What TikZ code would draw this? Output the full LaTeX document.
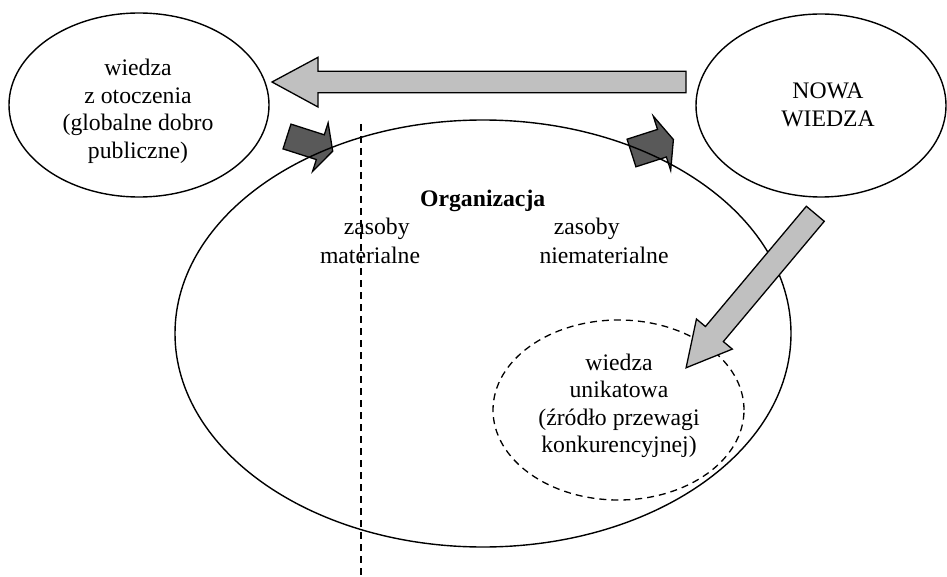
\documentclass[tikz,border=0pt]{standalone}
\usepackage{fontspec}
\setmainfont{Liberation Serif}
\usetikzlibrary{shapes.geometric}
\definecolor{lightarrow}{RGB}{192,192,192}
\definecolor{darkarrow}{RGB}{89,89,89}
\begin{document}
\begin{tikzpicture}[x=1pt,y=-1pt,
  oval/.style={draw,ellipse,line width=1.4pt,inner sep=0pt},
  dashoval/.style={draw,ellipse,line width=1.3pt,inner sep=0pt,dash pattern=on 7pt off 5pt},
  txt/.style={inner sep=0pt,align=center,font=\fontsize{23.7pt}{27.5pt}\selectfont},
  lightblock/.style={draw,line width=1.3pt,fill=lightarrow,line join=miter},
  darkblock/.style={draw,line width=1.3pt,fill=darkarrow,line join=miter},
  dashline/.style={line width=1.3pt,dash pattern=on 7pt off 5pt}]
\useasboundingbox (0,0) rectangle (947,577);

% dark block arrows (under the organisation ellipse)
\begin{scope}[shift={(287,136.5)},rotate=-17.8]
  \draw[darkblock] (0,-13) -- (35,-13) -- (35,-25.5) -- (48,0) -- (35,25.5) -- (35,13) -- (0,13) -- cycle;
\end{scope}
\begin{scope}[shift={(631.5,153)},rotate=17.8]
  \draw[darkblock] (0,-14.5) -- (32,-14.5) -- (32,-28.5) -- (44,0) -- (32,28.5) -- (32,14.5) -- (0,14.5) -- cycle;
\end{scope}

% organisation ellipse
\node[oval,minimum width=616pt,minimum height=427pt] (org) at (483,333.5) {};
% unique knowledge ellipse
\node[dashoval,minimum width=251pt,minimum height=180pt] (uniq) at (618.5,410) {};

% diagonal light arrow
\begin{scope}[shift={(815.3,213.8)},rotate=-130]
  \draw[lightblock] (0,-11.7) -- (157,-11.7) -- (157,-23.4) -- (201,0) -- (157,23.4) -- (157,11.7) -- (0,11.7) -- cycle;
\end{scope}

% horizontal light arrow
\draw[lightblock] (686,71.3) -- (318,71.3) -- (318,57.3) -- (272,82) -- (318,107) -- (318,92.7) -- (686,92.7) -- cycle;

% outer ellipses
\node[oval,minimum width=260pt,minimum height=184pt] (env) at (139,105) {};
\node[oval,minimum width=250pt,minimum height=183pt] (new) at (821,105.5) {};

% texts
\node[txt] (envtxt) at (138,111.5) {wiedza\\z otoczenia\\(globalne dobro\\publiczne)};
\node[txt] (newtxt) at (828,104.7) {NOWA\\WIEDZA};
\node[txt,anchor=base] (orgtxt) at (482.7,207) {\textbf{Organizacja}};
\node[txt,anchor=base] (zas1) at (376.7,234.7) {zasoby};
\node[txt,anchor=base] (mat) at (370,263) {materialne};
\node[txt,anchor=base] (zas2) at (586.7,234.7) {zasoby};
\node[txt,anchor=base] (niemat) at (604,263) {niematerialne};
\node[txt] (uniqtxt) at (619,406) {wiedza\\unikatowa\\(źródło przewagi\\konkurencyjnej)};

% dashed divider
\coordinate (dtop) at (361,124);
\coordinate (dbot) at (361,577);
\draw[dashline] (dtop) -- (dbot);
\end{tikzpicture}
\end{document}
